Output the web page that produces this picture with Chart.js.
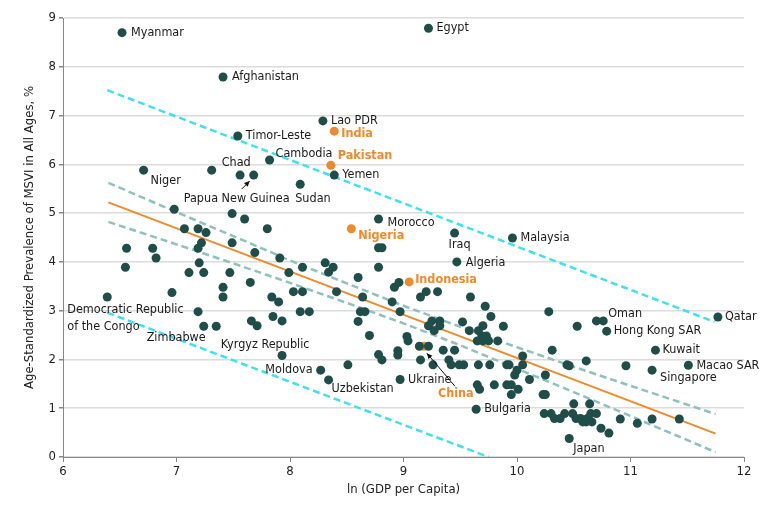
<!DOCTYPE html>
<html>
<head>
<meta charset="utf-8">
<script src="https://cdn.jsdelivr.net/npm/chart.js@4.4.1/dist/chart.umd.min.js"></script>
<style>
  html, body { margin: 0; padding: 0; background: #fff; }
</style>
</head>
<body>
<canvas id="msvi-chart" width="780" height="512"></canvas>
<script>
// labelled countries (dark dots)
const labeledNames = ['Myanmar', 'Afghanistan', 'Egypt', 'Lao PDR', 'Timor-Leste', 'Cambodia', 'Chad', 'Niger',
  'Papua New Guinea', 'Yemen', 'Sudan', 'Morocco', 'Iraq', 'Malaysia', 'Algeria', 'Oman', 'Hong Kong SAR', 'Qatar',
  'Kuwait', 'Macao SAR', 'Singapore', 'Japan', 'Bulgaria', 'Ukraine', 'Moldova', 'Uzbekistan', 'Kyrgyz Republic',
  'Zimbabwe', 'Democratic Republic of the Congo'];
const labeledX = [6.52, 7.41, 9.22, 8.29, 7.54, 7.82, 7.31, 6.71, 7.68, 8.39, 8.09, 8.78, 9.45, 9.96, 9.47, 10.76, 10.79,
  11.77, 11.22, 11.51, 11.19, 10.46, 9.64, 8.97, 8.27, 8.34, 7.93, 7.24, 6.39];
const labeledY = [8.70, 7.79, 8.79, 6.89, 6.58, 6.09, 5.88, 5.88, 5.78, 5.78, 5.59, 4.88, 4.59, 4.49, 4.00, 2.79, 2.58,
  2.87, 2.19, 1.88, 1.78, 0.38, 0.98, 1.59, 1.78, 1.58, 2.08, 2.68, 3.28];

// highlighted countries (orange)
const highlightNames = ['India', 'Pakistan', 'Nigeria', 'Indonesia', 'China'];
const highlightX = [8.39, 8.36, 8.54, 9.05, 9.18];
const highlightY = [6.68, 5.98, 4.68, 3.59, 2.27];

// all other countries [ln GDP, prevalence]
const otherPoints = [
  [6.98, 5.08], [7.49, 4.99], [7.60, 4.88], [7.07, 4.68], [7.19, 4.68], [7.26, 4.60], [7.80, 4.68], [7.22, 4.39],
  [7.19, 4.28], [7.49, 4.39], [6.56, 4.28], [6.79, 4.28], [6.82, 4.08], [7.69, 4.19], [7.91, 4.08], [7.20, 3.98],
  [6.55, 3.89], [7.11, 3.78], [7.24, 3.78], [7.47, 3.78], [7.99, 3.78], [8.11, 3.89], [8.31, 3.98], [8.38, 3.89],
  [8.34, 3.79], [7.65, 3.58], [6.96, 3.37], [7.41, 3.48], [7.41, 3.28], [8.03, 3.39], [8.11, 3.39], [8.41, 3.39],
  [7.84, 3.28], [7.90, 3.18], [7.19, 2.98], [8.09, 2.98], [8.17, 2.98], [7.85, 2.88], [7.93, 2.79], [7.66, 2.79],
  [7.71, 2.69], [7.35, 2.68], [7.56, 5.78], [8.51, 1.89],
  [8.78, 4.29], [8.81, 4.29], [8.78, 3.89], [8.60, 3.68], [8.92, 3.48], [8.96, 3.58], [8.64, 3.28], [8.90, 3.18],
  [8.97, 2.98], [8.62, 2.98], [8.66, 2.98], [8.60, 2.78], [8.70, 2.49], [9.03, 2.47], [9.04, 2.38], [8.78, 2.10],
  [8.81, 1.99], [8.95, 2.18], [8.95, 2.09], [9.15, 3.28], [9.20, 3.39], [9.30, 3.39], [9.15, 1.99], [9.14, 2.27],
  [9.22, 2.27], [9.25, 2.79], [9.32, 2.79], [9.22, 2.69], [9.27, 2.59], [9.32, 2.69], [9.35, 2.19], [9.45, 2.19],
  [9.26, 1.89], [9.40, 1.99], [9.42, 1.89], [9.49, 1.89], [9.52, 2.77], [9.58, 2.59], [9.66, 2.59], [9.59, 3.28],
  [9.72, 3.09],
  [9.70, 2.69], [9.88, 2.68], [9.77, 2.88], [9.69, 2.48], [9.73, 2.48], [9.65, 2.38], [9.70, 2.38], [9.75, 2.38],
  [9.83, 2.38], [9.53, 1.89], [9.66, 1.89], [9.76, 1.89], [9.91, 1.89], [9.93, 1.89], [10.05, 2.07], [10.05, 1.89],
  [10.00, 1.78], [9.98, 1.68], [10.11, 1.59], [10.25, 1.68], [10.31, 2.19], [10.44, 1.89], [9.65, 1.48], [9.67, 1.39],
  [9.80, 1.48], [9.91, 1.48], [9.95, 1.48], [9.95, 1.28], [10.01, 1.39], [10.23, 1.28], [10.25, 1.28], [10.28, 2.98],
  [10.53, 2.68], [10.61, 1.97], [10.46, 1.87], [10.96, 1.87], [10.70, 2.79],
  [10.24, 0.89], [10.30, 0.89], [10.33, 0.79], [10.38, 0.79], [10.42, 0.89], [10.49, 0.89], [10.52, 0.79], [10.56, 0.79],
  [10.58, 0.72], [10.61, 0.72], [10.62, 0.79], [10.66, 0.72], [10.65, 0.89], [10.70, 0.89], [10.74, 0.59], [10.81, 0.49],
  [10.91, 0.78], [11.06, 0.69], [11.19, 0.78], [11.43, 0.78], [10.50, 1.09], [10.64, 1.09]
];

// fitted line, confidence band, prediction band
const fitX = [6.4, 11.75];
const fitY = [5.22, 0.48];
const bandX = [6.4, 7, 7.5, 8, 8.5, 9, 9.5, 10, 10.5, 11, 11.75];
const ciUpper = [5.62, 5.02, 4.53, 4.03, 3.56, 3.10, 2.67, 2.25, 1.85, 1.46, 0.88];
const ciLower = [4.82, 4.36, 3.97, 3.57, 3.16, 2.74, 2.29, 1.81, 1.33, 0.84, 0.10];
const piUpperX = [6.39, 11.74];
const piUpperY = [7.52, 2.77];
const piLowerX = [6.39, 9.75];
const piLowerY = [2.96, 0];

const xTicks = [6, 7, 8, 9, 10, 11, 12];
const yTicks = [0, 1, 2, 3, 4, 5, 6, 7, 8, 9];

const DOT = '#1f4d49';
const ORANGE = '#ef8a2b';
const FONT = '"DejaVu Sans Condensed", "DejaVu Sans", sans-serif';

// label placement relative to the dot, in pixels
const labelLayout = {
  'Myanmar': { dx: 9, dy: 0 },
  'Afghanistan': { dx: 9, dy: 0 },
  'Egypt': { dx: 8, dy: 0 },
  'Lao PDR': { dx: 8, dy: 0 },
  'Timor-Leste': { dx: 8, dy: 0 },
  'Cambodia': { dx: 6, dy: -6 },
  'Chad': { dx: 10, dy: -7 },
  'Niger': { dx: 7, dy: 11 },
  'Papua New Guinea': { dx: -17, dy: 24, align: 'center', arrow: [-12, 14, -4, 6] },
  'Yemen': { dx: 8, dy: 0 },
  'Sudan': { dx: -5, dy: 14 },
  'Morocco': { dx: 9, dy: 4 },
  'Iraq': { dx: -6, dy: 12 },
  'Malaysia': { dx: 8, dy: 0 },
  'Algeria': { dx: 9, dy: 1 },
  'Oman': { dx: 5, dy: -7 },
  'Hong Kong SAR': { dx: 7, dy: 0 },
  'Qatar': { dx: 7, dy: 0 },
  'Kuwait': { dx: 7, dy: 0 },
  'Macao SAR': { dx: 8, dy: 0 },
  'Singapore': { dx: 8, dy: 8 },
  'Japan': { dx: 4, dy: 10 },
  'Bulgaria': { dx: 8, dy: 0 },
  'Ukraine': { dx: 8, dy: 0 },
  'Moldova': { dx: -8, dy: 0, align: 'right' },
  'Uzbekistan': { dx: 3, dy: 9 },
  'Kyrgyz Republic': { dx: -17, dy: -11, align: 'center' },
  'Zimbabwe': { dx: 2, dy: 11, align: 'right' },
  'Democratic Republic of the Congo': { dx: -40, dy: 13, lines: ['Democratic Republic', 'of the Congo'] },
  'India': { dx: 7, dy: 3 },
  'Pakistan': { dx: 7, dy: -10 },
  'Nigeria': { dx: 7, dy: 7 },
  'Indonesia': { dx: 6, dy: -2 },
  'China': { dx: 14, dy: 47, arrow: [31, 40, 3, 7] }
};

function pts(xs, ys) {
  return xs.map(function(x, i) { return { x: x, y: ys[i] }; });
}

const labelPlugin = {
  id: 'countryLabels',
  afterDatasetsDraw(chart) {
    const ctx = chart.ctx;
    const xs = chart.scales.x;
    const ys = chart.scales.y;
    ctx.save();
    ctx.textBaseline = 'middle';

    function put(name, x, y, color, bold) {
      const lay = labelLayout[name];
      if (!lay) return;
      const px = xs.getPixelForValue(x);
      const py = ys.getPixelForValue(y);
      ctx.font = (bold ? 'bold ' : '') + '12.5px ' + FONT;
      ctx.fillStyle = color;
      ctx.textAlign = lay.align || 'left';
      const lines = lay.lines || [name];
      lines.forEach(function(t, i) {
        ctx.fillText(t, px + lay.dx, py + lay.dy + i * 17);
      });
      if (lay.arrow) {
        const a = lay.arrow;
        const x1 = px + a[0], y1 = py + a[1], x2 = px + a[2], y2 = py + a[3];
        ctx.strokeStyle = '#111';
        ctx.fillStyle = '#111';
        ctx.lineWidth = 1;
        ctx.beginPath();
        ctx.moveTo(x1, y1);
        ctx.lineTo(x2, y2);
        ctx.stroke();
        const ang = Math.atan2(y2 - y1, x2 - x1);
        ctx.beginPath();
        ctx.moveTo(x2, y2);
        ctx.lineTo(x2 - 6 * Math.cos(ang - 0.45), y2 - 6 * Math.sin(ang - 0.45));
        ctx.lineTo(x2 - 6 * Math.cos(ang + 0.45), y2 - 6 * Math.sin(ang + 0.45));
        ctx.closePath();
        ctx.fill();
      }
    }

    labeledNames.forEach(function(n, i) { put(n, labeledX[i], labeledY[i], '#1a1a1a', false); });
    highlightNames.forEach(function(n, i) { put(n, highlightX[i], highlightY[i], ORANGE, true); });
    ctx.restore();
  }
};

const ctx = document.getElementById('msvi-chart').getContext('2d');

const darkPoints = pts(labeledX, labeledY).concat(otherPoints.map(function(p) { return { x: p[0], y: p[1] }; }));
const chinaIdx = highlightNames.indexOf('China');
const orangeTop = pts(highlightX, highlightY).filter(function(p, i) { return i !== chinaIdx; });
const orangeChina = [{ x: highlightX[chinaIdx], y: highlightY[chinaIdx] }];

function lineSet(data, color, dash, width) {
  return {
    data: data,
    showLine: true,
    borderColor: color,
    borderDash: dash,
    borderWidth: width,
    pointRadius: 0,
    fill: false,
    order: 10
  };
}

let chart = new Chart(ctx, {
  type: 'scatter',
  data: {
    datasets: [
      lineSet(pts(piUpperX, piUpperY), '#3ee2ee', [7, 4], 2.5),
      lineSet(pts(piLowerX, piLowerY), '#3ee2ee', [7, 4], 2.5),
      lineSet(pts(bandX, ciUpper), '#8fc1bd', [7, 4], 2.5),
      lineSet(pts(bandX, ciLower), '#8fc1bd', [7, 4], 2.5),
      lineSet(pts(fitX, fitY), ORANGE, [], 2),
      { data: orangeChina, backgroundColor: ORANGE, borderWidth: 0, pointRadius: 4.5, order: 3 },
      { data: darkPoints, backgroundColor: DOT, borderWidth: 0, pointRadius: 4.5, order: 2 },
      { data: orangeTop, backgroundColor: ORANGE, borderWidth: 0, pointRadius: 4.5, order: 1 }
    ]
  },
  options: {
    responsive: false,
    animation: false,
    layout: { padding: { left: 16, right: 36, top: 18, bottom: 0 } },
    plugins: {
      legend: { display: false },
      tooltip: { enabled: false }
    },
    scales: {
      x: {
        type: 'linear',
        min: 6,
        max: 12,
        afterBuildTicks: function(s) { s.ticks = xTicks.map(function(v) { return { value: v }; }); },
        afterFit: function(s) { s.height = 55; },
        ticks: { color: '#222', font: { family: FONT, size: 13 }, padding: 2 },
        grid: { drawOnChartArea: false, drawTicks: true, tickLength: 5, tickColor: '#888' },
        border: { color: '#888', width: 1 },
        title: { display: true, text: 'ln (GDP per Capita)', color: '#222', font: { family: FONT, size: 13 }, padding: { top: 0, bottom: 15 } }
      },
      y: {
        type: 'linear',
        min: 0,
        max: 9,
        afterBuildTicks: function(s) { s.ticks = yTicks.map(function(v) { return { value: v }; }); },
        afterFit: function(s) { s.width = 47; },
        ticks: { color: '#222', font: { family: FONT, size: 13 }, padding: 3 },
        grid: { color: '#dcdcdc', lineWidth: 1.5, drawTicks: true, tickLength: 4, tickColor: '#888' },
        border: { color: '#888', width: 1 },
        title: { display: true, text: 'Age-Standardized Prevalence of MSVI in All Ages, %', color: '#222', font: { family: FONT, size: 13 }, padding: { top: 6, bottom: 0 } }
      }
    }
  },
  plugins: [labelPlugin]
});
</script>
</body>
</html>
